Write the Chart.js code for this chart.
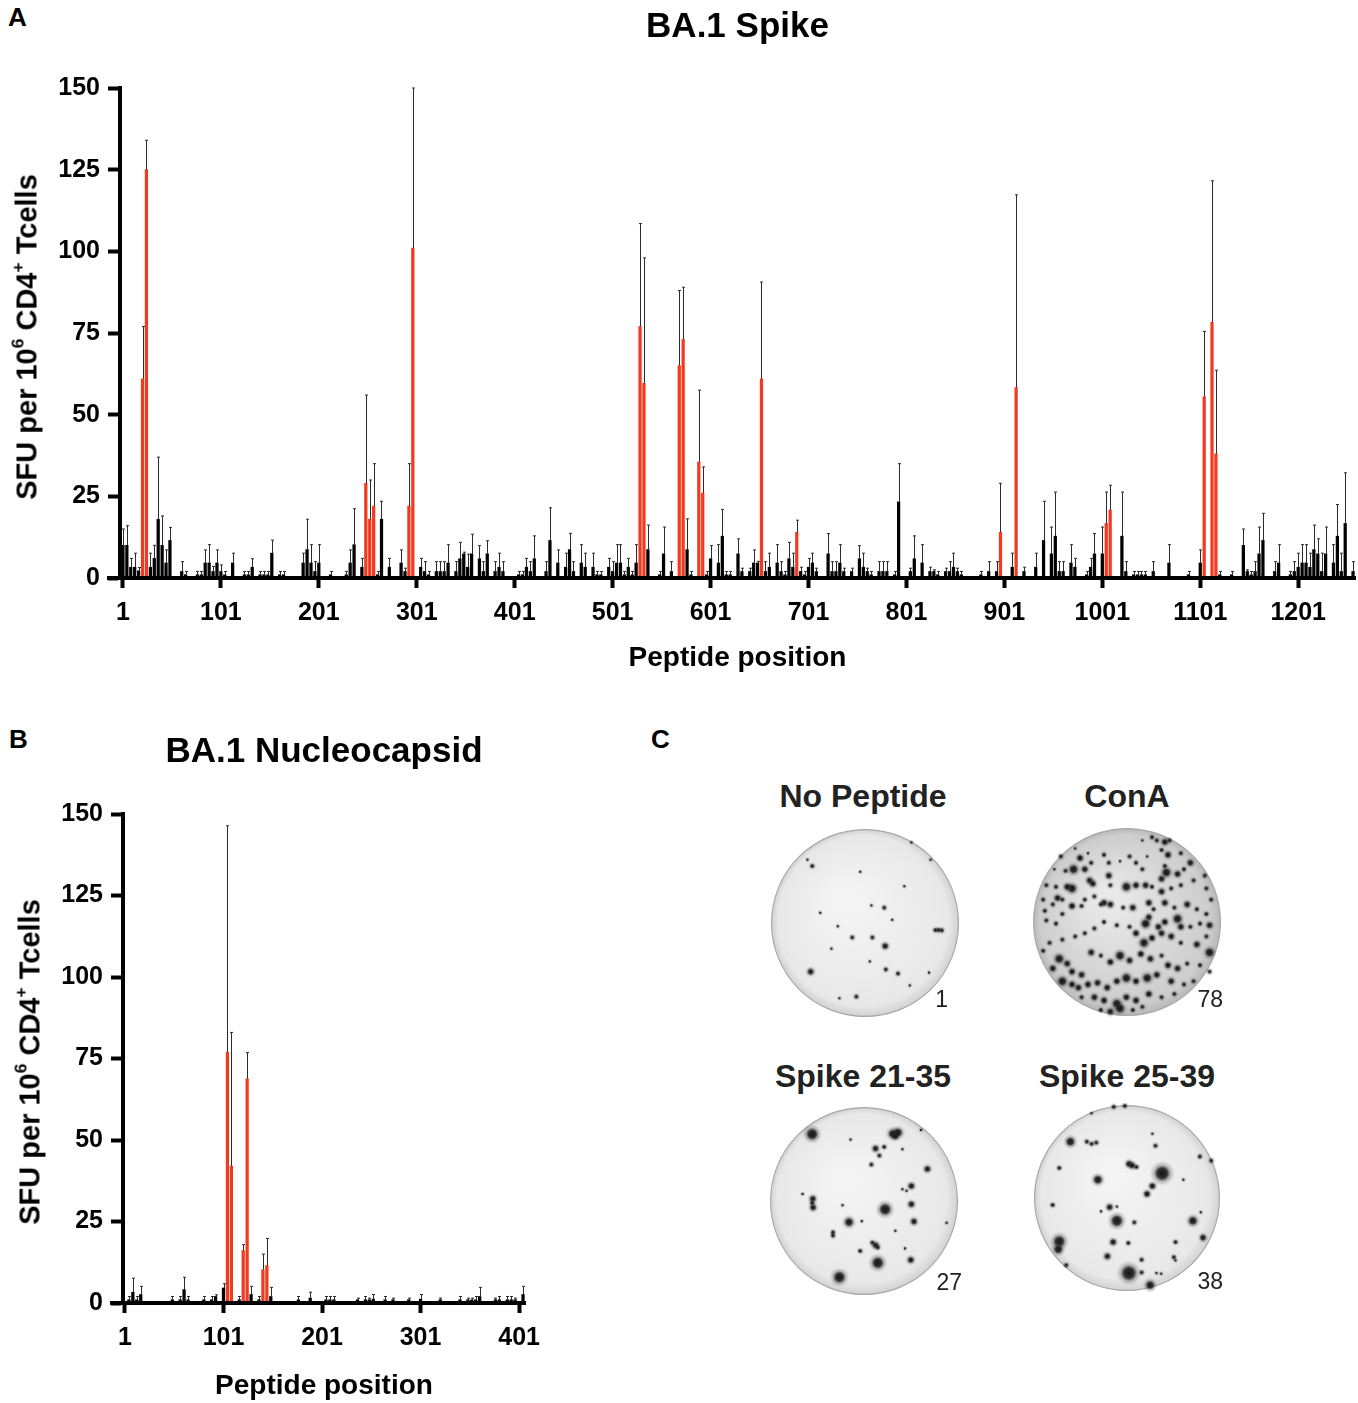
<!DOCTYPE html>
<html>
<head>
<meta charset="utf-8">
<script src="https://cdn.jsdelivr.net/npm/chart.js@4.4.1/dist/chart.umd.min.js"></script>
<style>
  body { margin: 0; background: #fff; }
  #page { position: relative; width: 1358px; height: 1403px; overflow: hidden;
          font-family: "Liberation Sans", Arial, sans-serif; color: #000; }
  canvas, .txt { position: absolute; }
  .letter { font-weight: bold; font-size: 26px; line-height: 1; }
  .ytitle { font-weight: bold; font-size: 29px; line-height: 1; white-space: nowrap;
            transform: translate(-50%, -50%) rotate(-90deg); }
  .ytitle sup { font-size: 0.6em; vertical-align: 0.75em; line-height: 0; }
  .wellname { font-weight: bold; font-size: 32px; line-height: 1; color: #222;
              white-space: nowrap; transform: translateX(-50%); }
  .count { font-size: 23px; line-height: 1; color: #222; width: 60px; text-align: right; }
</style>
</head>
<body>
<div id="page">
  <div class="txt letter" style="left:8px; top:4px;">A</div>
  <div class="txt letter" style="left:9px; top:726px;">B</div>
  <div class="txt letter" style="left:651px; top:726px;">C</div>

  <canvas id="spike" width="1358" height="690" style="left:0; top:0; width:1358px; height:690px;"></canvas>
  <canvas id="nucleo" width="560" height="703" style="left:0; top:700px; width:560px; height:703px;"></canvas>

  <div class="txt ytitle" style="left:27px; top:337px;">SFU per 10<sup>6</sup> CD4<sup>+</sup> Tcells</div>
  <div class="txt ytitle" style="left:30px; top:1062px;">SFU per 10<sup>6</sup> CD4<sup>+</sup> Tcells</div>

  <div class="txt wellname" style="left:863px; top:780px;">No Peptide</div>
  <div class="txt wellname" style="left:1127px; top:780px;">ConA</div>
  <div class="txt wellname" style="left:863px; top:1060px;">Spike 21-35</div>
  <div class="txt wellname" style="left:1127px; top:1060px;">Spike 25-39</div>

  <canvas id="wellNone" width="200" height="200" style="left:765px; top:823px;"></canvas>
  <canvas id="wellConA" width="200" height="200" style="left:1027px; top:822px;"></canvas>
  <canvas id="well21" width="200" height="200" style="left:764px; top:1101px;"></canvas>
  <canvas id="well25" width="200" height="200" style="left:1027px; top:1098px;"></canvas>

  <div class="txt count" style="left:888px; top:988px;">1</div>
  <div class="txt count" style="left:1163px; top:988px;">78</div>
  <div class="txt count" style="left:902px; top:1271px;">27</div>
  <div class="txt count" style="left:1163px; top:1270px;">38</div>
</div>

<script>
// 15-mer peptides, one every 4 residues: peptide i starts at residue 1 + 4 * i
const PEPTIDE_STEP = 4;

// BA.1 Spike, mean SFU per 10^6 CD4+ T cells (peptides 0..314)
const spikeValues = [
  10, 10, 3.3, 3.3, 2.2, 61, 125, 3.3, 6, 18, 10, 4.6, 11.5, 0, 0, 2, 1, 0, 0, 1,
  1, 4.6, 4.6, 2, 4.6, 2, 1, 0, 4.6, 0, 0, 1, 1, 3.3, 0, 1, 1, 1, 7.6, 0,
  1, 1, 0, 0, 0, 0, 4.6, 8.7, 4.6, 2, 4.6, 0, 0, 1, 0, 0, 0, 1, 4.6, 10.2,
  0, 3.3, 29, 18, 22, 1, 18, 0, 3.3, 0, 0, 4.6, 2, 22, 101, 0, 3.3, 2, 1, 0,
  2, 2, 2, 4.6, 0, 2, 5.9, 7.4, 3.3, 7.4, 0, 5.9, 2, 7.4, 0, 2, 3.3, 2, 0, 0,
  0, 1, 1, 3.3, 2, 5.9, 0, 0, 2, 11.5, 0, 4.6, 0, 3.3, 8.7, 2, 0, 4.6, 3.3, 0,
  3.3, 1, 1, 0, 3.3, 2, 4.6, 4.6, 1, 3.3, 1, 4.6, 77, 59.6, 8.7, 0, 0, 1, 7.4, 0,
  2, 0, 65, 73, 8.7, 1, 0, 35.5, 26, 1, 5.9, 0, 4.6, 12.8, 1, 1, 0, 7.4, 2, 0,
  2, 4.6, 4.6, 61, 2, 3.3, 0, 4.6, 2, 1, 5.9, 3.3, 14, 2, 1, 3.3, 4.6, 2, 0, 0,
  7.4, 2, 2, 4.6, 2, 0, 2, 0, 5.9, 3.3, 2, 1, 0, 2, 2, 2, 0, 1, 23.3, 0,
  0, 2, 5.9, 0, 4.6, 0, 2, 2, 1, 0, 2, 2, 3.3, 2, 1, 0, 0, 0, 0, 1,
  0, 2, 0, 2, 14, 0, 0, 3.3, 58.3, 0, 2, 0, 0, 3.3, 0, 11.5, 0, 7.4, 12.8, 2,
  2, 0, 4.6, 3.3, 0, 0, 1, 3.3, 7.4, 0, 7.4, 16.7, 20.8, 0, 0, 12.8, 2, 0, 1, 1,
  1, 1, 0, 2, 0, 0, 0, 4.6, 0, 0, 0, 0, 1, 0, 0, 4.6, 55.5, 0, 78.3, 38,
  1, 0, 0, 1, 0, 0, 10, 2, 1, 2, 7.4, 11.5, 0, 0, 2, 4.6, 0, 0, 1, 2,
  3.3, 4.6, 4.6, 3.3, 8.7, 7.4, 2, 7.4, 0, 4.6, 12.8, 2, 16.7, 0, 2
];

// upper error (SEM) for each spike peptide
const spikeErrors = [
  5, 6, 2.7, 4.3, 1, 16, 9, 4.3, 4, 19, 9, 4, 4, 0, 0, 3, 1, 0, 0, 1,
  1, 4, 5.6, 1.5, 4, 2, 1, 0, 3, 0, 0, 1, 1, 2.6, 0, 1, 1, 1, 4, 0,
  1, 1, 0, 0, 0, 0, 3, 9.3, 5.6, 3, 5.6, 0, 0, 1, 0, 0, 0, 1, 4, 11,
  0, 2.7, 27, 12, 13, 1, 5.5, 0, 2.7, 0, 0, 4, 1, 13, 49, 0, 2.7, 3, 1, 0,
  3, 3, 3, 5.6, 0, 3, 5, 0.5, 4, 6, 0, 4, 3, 4, 0, 3, 4.3, 3, 0, 0,
  0, 1, 1, 2.7, 3, 7, 0, 0, 3, 10, 0, 4, 0, 4.3, 5, 3, 0, 5.6, 4.3, 0,
  4.3, 1, 1, 0, 2.7, 3, 5.6, 5.6, 1, 2.7, 1, 5.6, 31.5, 38.4, 7.5, 0, 0, 1, 8.2, 0,
  3, 0, 23, 16, 9.4, 1, 0, 22, 8, 1, 4, 0, 5.6, 8.2, 1, 1, 0, 4.6, 1, 0,
  1, 4, 0.5, 29.6, 3, 4.3, 0, 5.6, 3, 1, 5, 4.3, 3.7, 1.3, 1, 2.7, 3, 1, 0, 0,
  6.2, 3, 3, 5.6, 1, 0, 1, 0, 4, 4.3, 1, 1, 0, 3, 3, 3, 0, 1, 11.7, 0,
  0, 1, 7, 0, 5.6, 0, 1.3, 0.5, 1, 0, 1, 3, 4.3, 1, 1, 0, 0, 0, 0, 1,
  0, 3, 0, 3, 15, 0, 0, 4.3, 59, 0, 1.3, 0, 0, 4.3, 0, 12, 0, 8.2, 13.5, 3,
  3, 0, 5.6, 2.7, 0, 0, 1, 2.7, 6.2, 0, 8.2, 9.6, 7.6, 0, 0, 13.5, 3, 0, 1, 1,
  1, 1, 0, 3, 0, 0, 0, 5.6, 0, 0, 0, 0, 1, 0, 0, 4, 20, 0, 43.3, 25.6,
  1, 0, 0, 1, 0, 0, 5, 0.5, 1, 3, 8.2, 8.3, 0, 0, 3, 5.6, 0, 0, 1, 3,
  4.3, 5.6, 5.6, 4.3, 7.5, 4.6, 5.6, 8.2, 0, 5.6, 9.7, 5.6, 15.5, 0, 3
];

// peptides scored positive (drawn in red)
const spikePositive = [5, 6, 62, 63, 64, 73, 74, 132, 133, 142, 143, 147, 148,
  163, 172, 224, 228, 251, 252, 276, 278, 279];

// BA.1 Nucleocapsid (peptides 0..101)
const nucleoValues = [
  0, 1, 3.3, 1, 2.6, 0, 0, 0, 0, 0, 0, 0, 1, 0, 1, 4.1, 1, 0, 0, 0,
  1, 0, 1, 2, 0, 4.6, 77, 42, 0, 1, 16.1, 68.8, 2.6, 0, 1, 10.2, 11.5, 2, 0, 0,
  0, 0, 0, 0, 1, 0, 0, 1.5, 0, 0, 0, 1, 1, 1, 0, 0, 0, 0, 0, 1,
  0, 1, 1, 1.2, 0, 0, 1, 0, 1, 0, 0, 0, 1, 0, 0, 1.2, 0, 0, 0, 0,
  1, 0, 0, 0, 0, 1, 0, 1, 1, 1, 2, 0, 0, 0, 1, 1, 0, 1, 1, 1,
  0, 2.6
];
const nucleoErrors = [
  0, 1, 4.3, 1, 2.5, 0, 0, 0, 0, 0, 0, 0, 1, 0, 1, 3.8, 1, 0, 0, 0,
  1, 0, 1, 0.5, 0, 1.3, 69.4, 41, 0, 1, 1.8, 8, 2.5, 0, 1, 4.8, 8.3, 2.8, 0, 0,
  0, 0, 0, 0, 1, 0, 0, 1.8, 0, 0, 0, 1, 1, 1, 0, 0, 0, 0, 0, 0.5,
  0, 1, 0.5, 1.4, 0, 0, 1, 0, 0.5, 0, 0, 0, 0.5, 0, 0, 1.4, 0, 0, 0, 0,
  0.5, 0, 0, 0, 0, 1, 0, 0.5, 0.5, 1, 2.8, 0, 0, 0, 0.5, 1, 0, 1, 1, 0.5,
  0, 2.5
];
const nucleoPositive = [26, 27, 30, 31, 35, 36];

const spikeTicks = [1, 101, 201, 301, 401, 501, 601, 701, 801, 901, 1001, 1101, 1201];
const nucleoTicks = [1, 101, 201, 301, 401];
const sfuTicks = [0, 25, 50, 75, 100, 125, 150];

// ELISpot wells: spots as [x, y, size class] in scan units, well radius 292
const wellRadius = 292;
const noPeptideSpots = [
  [180, 282, 2], [165, 262, 1], [175, 612, 3], [408, 532, 3], [565, 482, 2], [575, 482, 2],
  [585, 483, 2], [305, 505, 2], [368, 505, 2], [405, 412, 2], [365, 405, 1], [205, 428, 1],
  [468, 345, 1], [490, 208, 1], [550, 262, 1], [448, 618, 2], [410, 605, 2], [318, 690, 2],
  [265, 695, 1], [485, 655, 1], [545, 615, 1], [240, 540, 1], [360, 580, 1], [260, 470, 1],
  [330, 300, 1], [430, 450, 1]
];
const conASpots = [
  [1225, 200, 2], [1250, 205, 3], [1265, 200, 2], [1210, 190, 2], [1180, 200, 1], [1240, 230, 2],
  [1260, 245, 3], [1300, 240, 2], [1330, 270, 3], [1310, 290, 2], [1290, 305, 3], [1255, 300, 4],
  [1240, 320, 3], [1250, 280, 2], [985, 255, 3], [1010, 240, 1], [1060, 245, 2], [1075, 270, 2],
  [1110, 265, 1], [1140, 250, 2], [1160, 270, 2], [1180, 290, 2], [1195, 250, 1], [965, 290, 4],
  [940, 295, 2], [1000, 290, 3], [1020, 270, 2], [905, 290, 1], [925, 250, 2], [970, 225, 1],
  [1015, 325, 3], [1025, 335, 3], [960, 350, 4], [945, 345, 3], [910, 345, 2], [880, 340, 2],
  [870, 385, 2], [915, 380, 3], [930, 385, 2], [1075, 310, 3], [1080, 340, 2], [1130, 345, 4],
  [1160, 340, 3], [1190, 340, 3], [1210, 345, 2], [1240, 360, 3], [1270, 350, 2], [1300, 340, 2],
  [1340, 325, 2], [1375, 310, 2], [1380, 350, 2], [1395, 385, 2], [1150, 410, 3], [1120, 410, 2],
  [1060, 395, 3], [1050, 400, 2], [1080, 400, 3], [1030, 375, 2], [1000, 385, 2], [990, 405, 2],
  [960, 405, 3], [900, 400, 2], [875, 420, 2], [880, 450, 2], [910, 460, 2], [930, 430, 2],
  [1190, 460, 4], [1200, 440, 3], [1230, 470, 3], [1250, 455, 3], [1290, 445, 4], [1300, 470, 3],
  [1330, 470, 2], [1360, 460, 2], [1390, 465, 3], [1380, 430, 2], [1350, 415, 2], [1320, 400, 3],
  [1280, 410, 2], [1250, 395, 3], [1200, 395, 3], [1215, 415, 2], [1140, 470, 2], [1100, 465, 2],
  [1060, 455, 2], [1030, 475, 2], [1000, 490, 2], [970, 500, 2], [930, 510, 2], [890, 520, 2],
  [870, 545, 2], [1160, 490, 3], [1185, 520, 4], [1210, 505, 3], [1240, 490, 3], [1270, 500, 3],
  [1300, 520, 2], [1350, 525, 3], [1390, 550, 4], [1380, 500, 2], [920, 570, 4], [945, 585, 3],
  [960, 610, 3], [990, 620, 3], [1020, 550, 3], [1050, 560, 2], [1080, 580, 3], [1110, 560, 4],
  [1140, 575, 3], [1175, 555, 3], [1205, 570, 3], [1240, 560, 2], [1260, 590, 3], [1290, 600, 3],
  [1320, 585, 2], [1360, 590, 2], [1390, 610, 2], [900, 600, 3], [930, 640, 4], [960, 650, 3],
  [980, 660, 3], [1010, 650, 3], [1040, 645, 3], [1070, 660, 3], [1100, 640, 3], [1130, 630, 4],
  [1160, 640, 3], [1195, 630, 4], [1225, 620, 3], [1270, 640, 3], [1310, 650, 2], [1340, 640, 2],
  [990, 690, 2], [1030, 690, 3], [1060, 700, 3], [1100, 710, 4], [1130, 690, 3], [1160, 700, 3],
  [1200, 680, 3], [1240, 690, 2], [1280, 680, 2], [1050, 730, 2], [1080, 735, 3], [1110, 725, 4],
  [1150, 730, 2], [1180, 720, 2]
];
const spike21Spots = [
  [180, 243, 5], [432, 242, 4], [448, 238, 4], [440, 250, 3], [408, 478, 5], [265, 690, 5],
  [385, 645, 5], [295, 518, 4], [490, 462, 3], [498, 516, 3], [488, 636, 3], [540, 352, 3],
  [182, 445, 3], [183, 472, 3], [180, 458, 2], [378, 288, 3], [390, 310, 2], [405, 283, 2],
  [365, 338, 2], [490, 405, 3], [475, 420, 1], [462, 415, 1], [378, 590, 3], [368, 582, 2],
  [385, 597, 2], [330, 608, 2], [245, 550, 2], [245, 560, 2], [335, 515, 1], [275, 465, 1],
  [462, 290, 1], [440, 545, 1], [520, 230, 1], [150, 430, 1], [300, 260, 1], [470, 600, 1],
  [600, 520, 1]
];
const spike25Spots = [
  [1243, 365, 6], [1138, 680, 6], [918, 580, 5], [915, 605, 4], [1100, 515, 5], [1340, 515, 4],
  [1040, 385, 4], [1138, 335, 3], [1148, 340, 3], [1162, 345, 2], [953, 265, 4], [1005, 265, 2],
  [1020, 272, 2], [1035, 268, 2], [1212, 405, 3], [1195, 430, 3], [918, 348, 2], [897, 465, 2],
  [1372, 568, 3], [1362, 312, 2], [1398, 325, 2], [1077, 472, 3], [1088, 582, 3], [1070, 627, 3],
  [1136, 585, 2], [1178, 678, 2], [1205, 718, 4], [1222, 278, 2], [1212, 240, 1], [1280, 630, 2],
  [1285, 640, 1], [1285, 582, 2], [1155, 520, 2], [1178, 638, 2], [1310, 385, 1], [1365, 488, 1],
  [1225, 680, 1], [1240, 682, 1], [1050, 485, 1], [1090, 155, 2], [1125, 152, 2], [1020, 175, 1],
  [940, 655, 2], [1100, 470, 1]
];

const RED = '#f23a21';
const spotRadius = [0, 0.8, 1.3, 2, 2.8, 3.8, 5];

Chart.defaults.font.family = '"Liberation Sans", Arial, sans-serif';
Chart.defaults.color = '#000';

const errorBars = {
  id: 'errorBars',
  afterDatasetsDraw(chart) {
    const ds = chart.data.datasets[0];
    const meta = chart.getDatasetMeta(0);
    const yScale = chart.scales.y;
    const ctx = chart.ctx;
    ctx.save();
    ctx.strokeStyle = '#2b2b2b';
    ctx.lineWidth = 1;
    meta.data.forEach((bar, i) => {
      const err = ds.errors[i];
      if (!err) return;
      const top = yScale.getPixelForValue(ds.data[i].y + err);
      const x = Math.round(bar.x) + 0.5;
      ctx.beginPath();
      ctx.moveTo(x, bar.y);
      ctx.lineTo(x, top);
      ctx.moveTo(x - 1.5, top);
      ctx.lineTo(x + 1.5, top);
      ctx.stroke();
    });
    ctx.restore();
  }
};

// the x axis line runs a little past the y axis, as in the prism-style original
const axisOverhang = {
  id: 'axisOverhang',
  afterDraw(chart) {
    const { ctx, chartArea } = chart;
    ctx.save();
    ctx.fillStyle = '#000';
    ctx.fillRect(chartArea.left - 13, chartArea.bottom - 2, 13, 4);
    ctx.restore();
  }
};

const makeBarChart = (id, title, values, errors, positive, ticks, opts) => {
  const data = values.map((v, i) => ({ x: 1 + PEPTIDE_STEP * i, y: v }));
  const axisTicks = { font: { size: 25, weight: 'bold' }, color: '#000', callback: (v) => String(v) };
  const axisGrid = { display: true, drawOnChartArea: false, drawTicks: true, offset: false,
                     tickWidth: 4, tickColor: '#000', color: '#000' };

  return new Chart(document.getElementById(id), {
    type: 'bar',
    data: {
      datasets: [{
        data,
        errors,
        backgroundColor: values.map((v, i) => positive.includes(i) ? RED : '#000'),
        borderWidth: 0,
        barThickness: 2.6
      }]
    },
    options: {
      responsive: false,
      animation: false,
      events: [],
      layout: { padding: { left: 0, right: opts.padRight, top: 0, bottom: 0 } },
      plugins: {
        legend: { display: false },
        tooltip: { enabled: false },
        title: {
          display: true,
          text: title,
          fullSize: false,
          color: '#000',
          font: { size: 35, weight: 'bold' },
          padding: { top: opts.titleTop, bottom: opts.titleBottom }
        }
      },
      scales: {
        x: {
          type: 'linear',
          min: opts.xMin,
          max: opts.xMax,
          offset: false,
          afterBuildTicks: (scale) => { scale.ticks = ticks.map(value => ({ value })); },
          afterFit: (scale) => { scale.height = opts.xHeight; },
          ticks: { ...axisTicks, padding: 10, maxRotation: 0, autoSkip: false },
          grid: { ...axisGrid, tickLength: 10 },
          border: { display: true, color: '#000', width: 4, z: 1 },
          title: {
            display: true,
            text: 'Peptide position',
            color: '#000',
            font: { size: 28, weight: 'bold' },
            padding: { top: 0, bottom: opts.xTitleBottom }
          }
        },
        y: {
          min: 0,
          max: 150,
          afterBuildTicks: (scale) => { scale.ticks = sfuTicks.map(value => ({ value })); },
          afterFit: (scale) => { scale.width = opts.yWidth; },
          ticks: { ...axisTicks, padding: 8 },
          grid: { ...axisGrid, tickLength: 12 },
          border: { display: true, color: '#000', width: 4, z: 1 }
        }
      }
    },
    plugins: [errorBars, axisOverhang]
  });
};

makeBarChart('spike', 'BA.1 Spike', spikeValues, spikeErrors, spikePositive, spikeTicks, {
  xMin: -2, xMax: 1259, yWidth: 120, xHeight: 112, padRight: 3,
  titleTop: 6, titleBottom: 40, xTitleBottom: 15
});

makeBarChart('nucleo', 'BA.1 Nucleocapsid', nucleoValues, nucleoErrors, nucleoPositive, nucleoTicks, {
  xMin: -1, xMax: 407, yWidth: 123, xHeight: 100, padRight: 35,
  titleTop: 31, titleBottom: 41, xTitleBottom: 0
});

// soft, slightly blurred ELISpot spot sprites, one per size class
const spotSprites = spotRadius.map((rc) => {
  const rh = Math.max(1, rc * 2.3 + 1);
  const size = Math.ceil(rh * 2) + 2;
  const c = document.createElement('canvas');
  c.width = size;
  c.height = size;
  const g = c.getContext('2d');
  const m = size / 2;
  const grad = g.createRadialGradient(m, m, 0, m, m, rh);
  grad.addColorStop(0, 'rgba(18,18,18,1)');
  grad.addColorStop(Math.min(0.9, rc / rh), 'rgba(28,28,28,0.9)');
  grad.addColorStop(Math.min(0.95, rc / rh + 0.25), 'rgba(45,45,45,0.28)');
  grad.addColorStop(1, 'rgba(60,60,60,0)');
  g.fillStyle = grad;
  g.beginPath();
  g.arc(m, m, rh, 0, Math.PI * 2);
  g.fill();
  return c;
});

// draws the membrane of the well under the spots
const wellPlate = {
  id: 'wellPlate',
  beforeDatasetsDraw(chart, args, o) {
    const { ctx, scales: { x, y } } = chart;
    const cx = x.getPixelForValue(o.cx);
    const cy = y.getPixelForValue(o.cy);
    const r = Math.abs(x.getPixelForValue(o.cx + wellRadius) - cx);
    const g = ctx.createRadialGradient(cx - r * 0.2, cy - r * 0.25, r * 0.1, cx, cy, r);
    g.addColorStop(0, o.inner);
    g.addColorStop(0.9, o.outer);
    g.addColorStop(1, o.rim);
    ctx.save();
    ctx.beginPath();
    ctx.arc(cx, cy, r, 0, Math.PI * 2);
    ctx.fillStyle = g;
    ctx.fill();
    ctx.lineWidth = 1.2;
    ctx.strokeStyle = '#a8a8a8';
    ctx.stroke();
    ctx.restore();
  }
};

const makeWell = (id, spots, cx, cy, tone) => new Chart(document.getElementById(id), {
  type: 'scatter',
  data: {
    datasets: [{
      data: spots.map(([x, y, s]) => ({ x, y, s })),
      pointStyle: (c) => spotSprites[c.raw.s],
      pointRadius: (c) => spotRadius[c.raw.s],
      backgroundColor: '#161616',
      borderWidth: 0
    }]
  },
  options: {
    responsive: false,
    animation: false,
    events: [],
    layout: { padding: 0 },
    scales: {
      x: { type: 'linear', min: cx - 300, max: cx + 300, display: false },
      y: { type: 'linear', min: cy - 300, max: cy + 300, reverse: true, display: false }
    },
    plugins: {
      legend: { display: false },
      tooltip: { enabled: false },
      wellPlate: { cx, cy, ...tone }
    }
  },
  plugins: [wellPlate]
});

const lightWell = { inner: '#f4f4f4', outer: '#e8e8e8', rim: '#d2d2d2' };
const darkWell = { inner: '#e9e9e9', outer: '#cdcdcd', rim: '#b8b8b8' };

makeWell('wellNone', noPeptideSpots, 345, 460, lightWell);
makeWell('wellConA', conASpots, 1132, 455, darkWell);
makeWell('well21', spike21Spots, 342, 452, lightWell);
makeWell('well25', spike25Spots, 1132, 443, lightWell);
</script>
</body>
</html>
